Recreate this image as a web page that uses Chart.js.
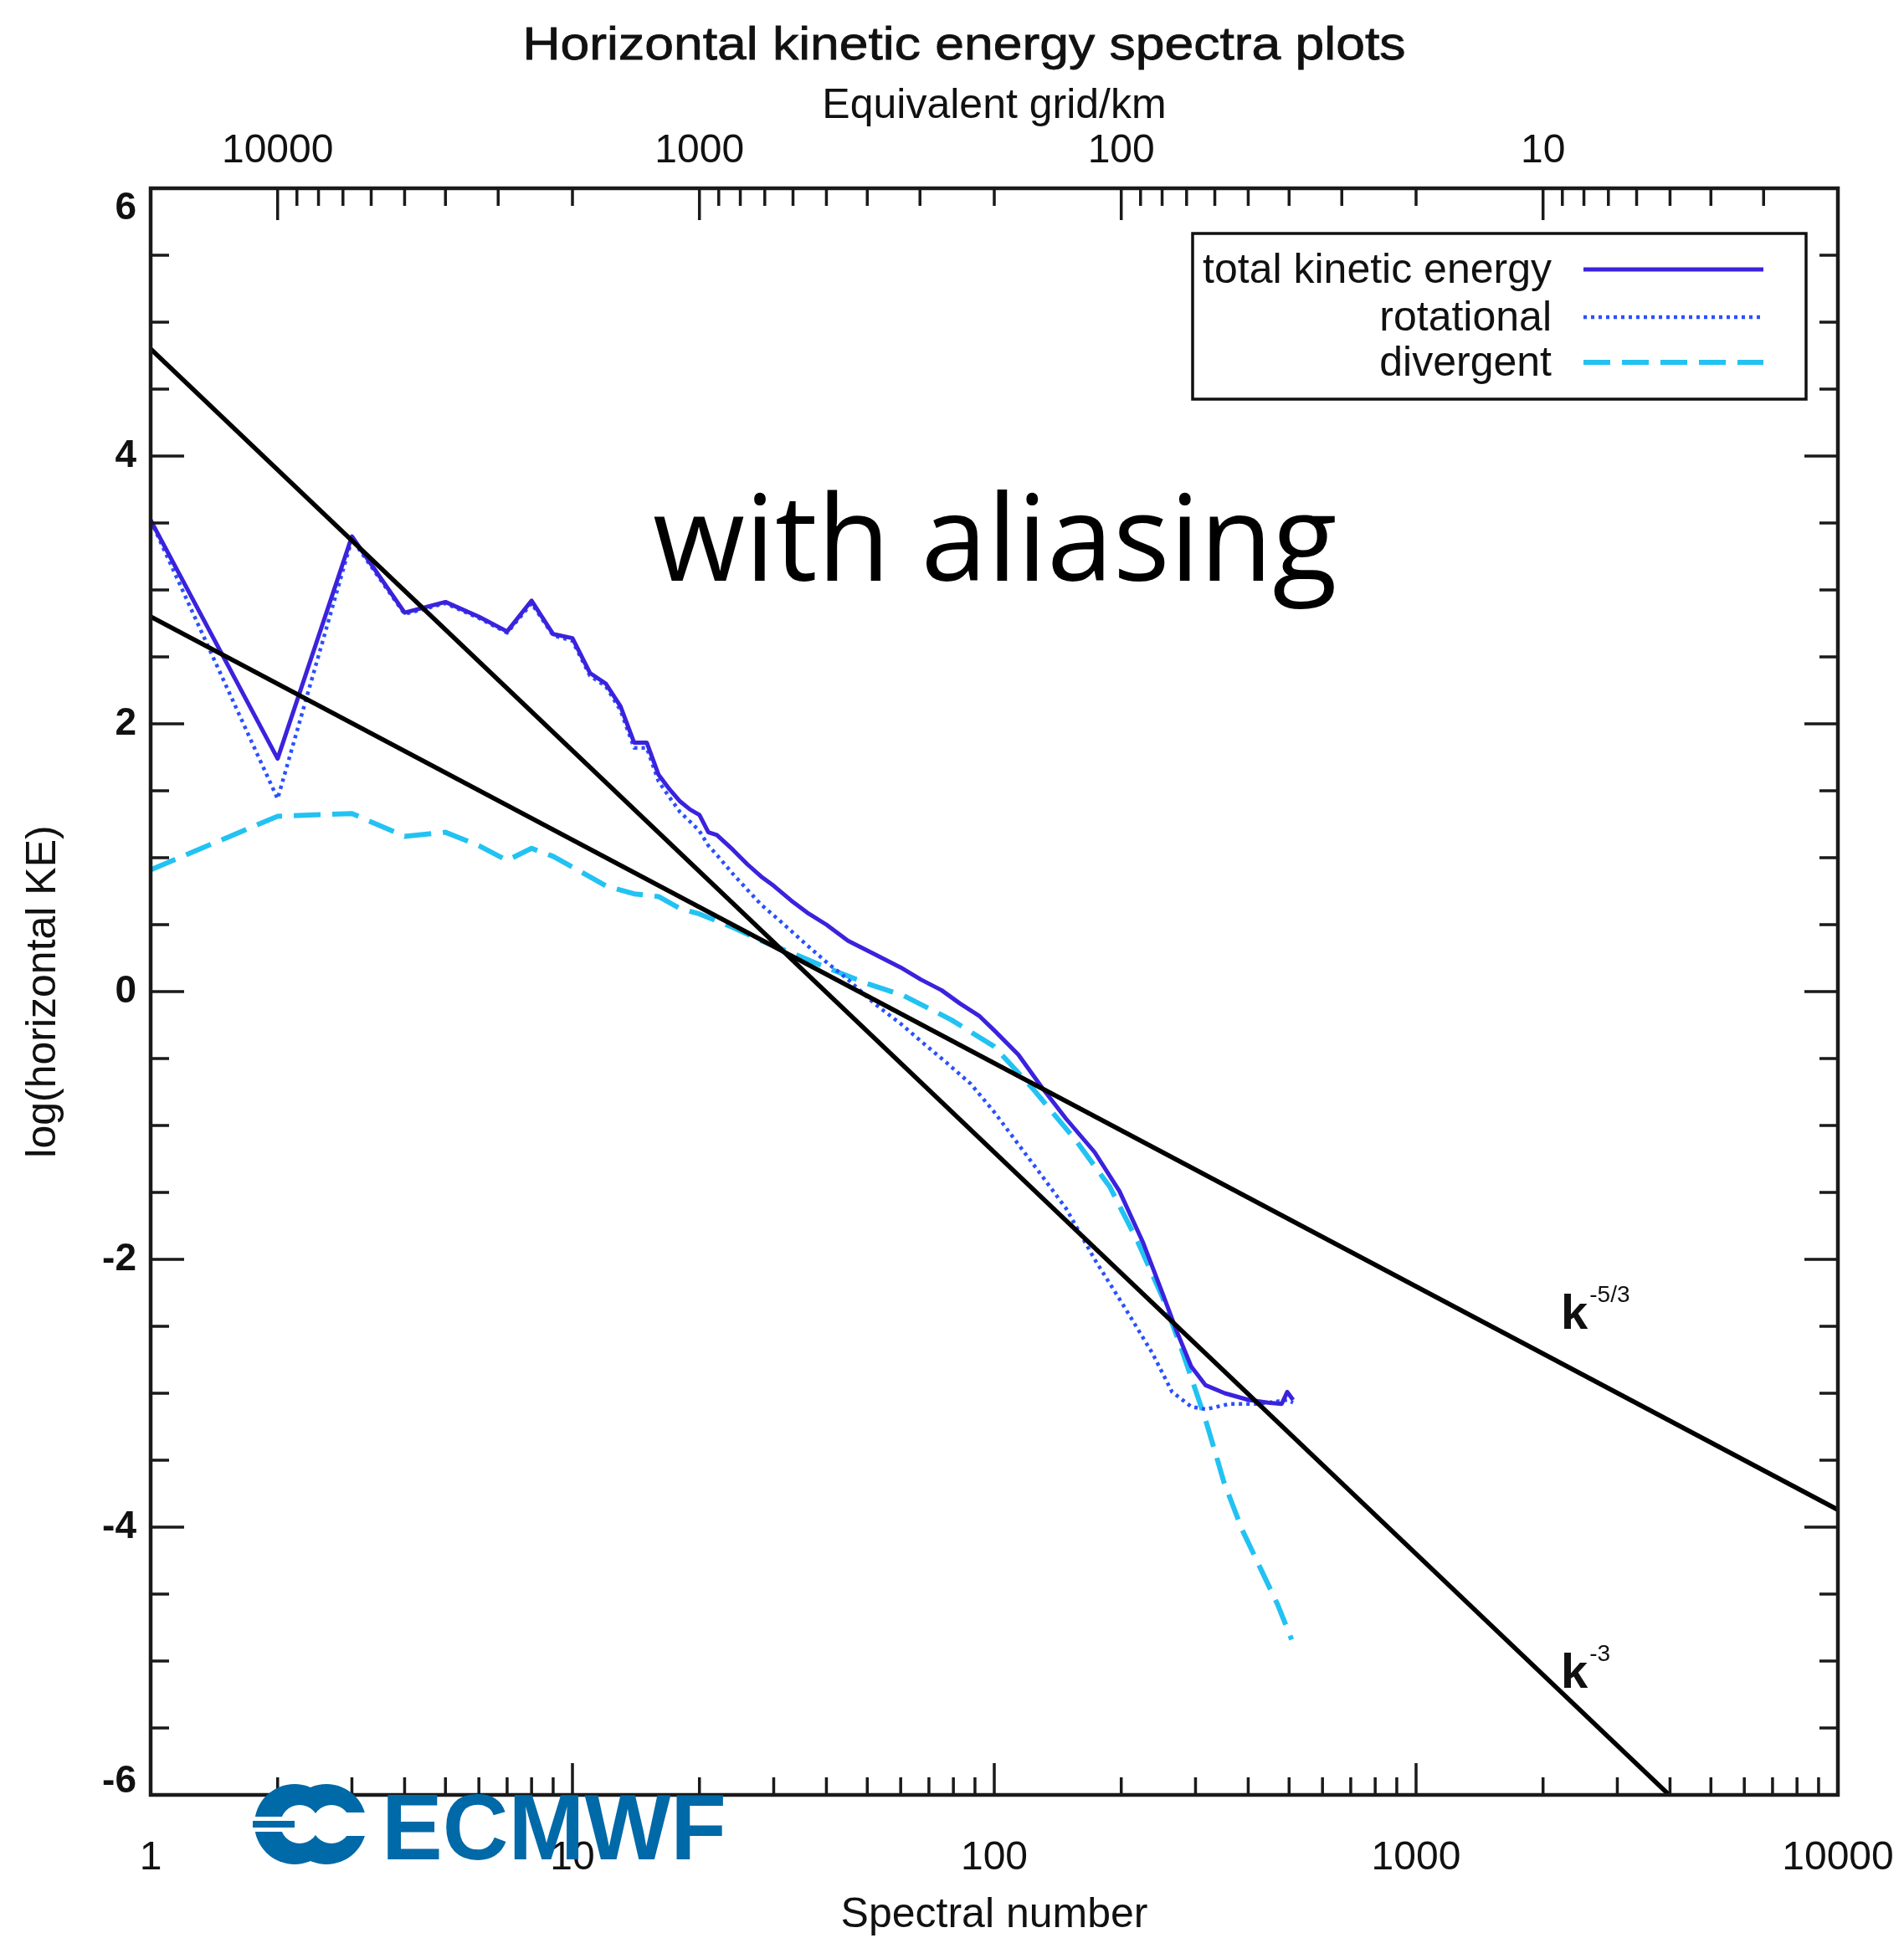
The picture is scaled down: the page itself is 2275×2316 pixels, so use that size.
<!DOCTYPE html>
<html><head><meta charset="utf-8">
<script src="https://cdn.jsdelivr.net/npm/chart.js@4.4.1/dist/chart.umd.min.js"></script>
<style>html,body{margin:0;padding:0;background:#fff;}canvas{display:block;}</style>
</head><body>
<canvas id="c" width="2275" height="2316"></canvas>
<script>
// ---- data ----
const totalN  = [1,2,3,4,5,6,7,8,9,10,11,12,13,14,15,16,17,18,19,20,21,22,24,26,28,30,33,36,40,45,52,60,67,75,83,92,100,114,130,148,173,198,225,251,271,293,317,352,401,446,480,495,511];
const totalKE = [3.52,1.74,3.40,2.83,2.91,2.80,2.69,2.92,2.67,2.64,2.38,2.30,2.13,1.86,1.86,1.62,1.51,1.42,1.36,1.32,1.19,1.17,1.06,0.95,0.86,0.79,0.68,0.59,0.50,0.38,0.28,0.18,0.09,0.01,-0.09,-0.18,-0.29,-0.47,-0.72,-0.95,-1.20,-1.49,-1.87,-2.26,-2.54,-2.80,-2.94,-3.00,-3.05,-3.07,-3.08,-2.99,-3.05];
const rotN    = [1,2,3,4,5,6,7,8,9,10,11,12,13,14,15,16,17,18,19,20,21,22,24,26,28,31,35,40,45,52,60,67,77,88,100,114,130,148,173,203,237,264,293,317,361,424,495,511];
const rotKE   = [3.52,1.44,3.38,2.82,2.90,2.79,2.68,2.90,2.66,2.62,2.36,2.28,2.10,1.82,1.82,1.57,1.45,1.34,1.27,1.20,1.09,1.02,0.88,0.76,0.65,0.53,0.38,0.22,0.09,-0.09,-0.24,-0.37,-0.53,-0.69,-0.90,-1.14,-1.38,-1.62,-2.00,-2.35,-2.70,-2.99,-3.10,-3.12,-3.08,-3.08,-3.05,-3.07];
const divN    = [1,2,3,4,5,6,7,8,9,10,12,14,16,18,20,24,28,33,40,50,61,79,100,123,156,188,219,251,278,301,317,334,350,387,428,470,507];
const divKE   = [0.91,1.31,1.33,1.16,1.19,1.09,0.98,1.07,1.01,0.93,0.79,0.73,0.71,0.62,0.58,0.48,0.38,0.29,0.18,0.06,-0.03,-0.21,-0.41,-0.72,-1.11,-1.46,-1.87,-2.29,-2.67,-2.99,-3.20,-3.44,-3.66,-4.02,-4.31,-4.58,-4.84];
const k53N    = [1, 10000];
const k53Val  = [2.80, -3.87];
const k3N     = [1, 3981];
const k3Val   = [4.80, -6.00];

const seriesLabels    = ['total kinetic energy', 'rotational', 'divergent'];
const xTickLabels     = [1, 10, 100, 1000, 10000];
const topTickLabelsKm = [10000, 1000, 100, 10];
const yTickLabels     = [-6, -4, -2, 0, 2, 4, 6];
const refLabels = [
  {base: 'k', sup: '-5/3', n: 2204, v: -2.52},
  {base: 'k', sup: '-3',   n: 2204, v: -5.20}
];
const titleText = 'Horizontal kinetic energy spectra plots';
const overlayText = 'with aliasing';

// ---- helpers ----
const FONT = "'Liberation Sans', Arial, sans-serif";
const pts = (xs, ys) => xs.map((x, i) => ({x: x, y: ys[i]}));
function logTicks(min, max) {
  const out = [];
  for (let d = 1; d <= 100000; d *= 10)
    for (let k = 1; k < 10; k++) {
      const v = k * d;
      if (v >= min && v <= max) out.push({value: v});
    }
  return out;
}
const yEnds = [yTickLabels[0], yTickLabels[yTickLabels.length - 1]];

const tickPlugin = {
  id: 'idlTicks',
  afterDatasetsDraw(chart) {
    const {ctx, chartArea: a, scales} = chart;
    const x = scales.x, x2 = scales.x2, y = scales.y;
    ctx.save();
    ctx.strokeStyle = '#1a1a1a'; ctx.lineWidth = 3.5; ctx.lineCap = 'butt';
    ctx.beginPath();
    x.ticks.forEach(t => { const p = x.getPixelForValue(t.value); const L = xTickLabels.includes(t.value) ? 38 : 21; ctx.moveTo(p, a.bottom); ctx.lineTo(p, a.bottom - L); });
    x2.ticks.forEach(t => { const p = x2.getPixelForValue(t.value); const L = topTickLabelsKm.includes(t.value) ? 38 : 21; ctx.moveTo(p, a.top); ctx.lineTo(p, a.top + L); });
    y.ticks.forEach(t => { const p = y.getPixelForValue(t.value); const L = yTickLabels.includes(t.value) ? 40 : 22;
      ctx.moveTo(a.left, p); ctx.lineTo(a.left + L, p); ctx.moveTo(a.right, p); ctx.lineTo(a.right - L, p); });
    ctx.stroke();
    ctx.lineWidth = 4.5;
    ctx.strokeRect(a.left, a.top, a.right - a.left, a.bottom - a.top);
    // end labels of the y axis are kept inside the axis range (IDL style)
    ctx.fillStyle = '#111';
    ctx.font = `bold 46px ${FONT}`;
    ctx.textAlign = 'right'; ctx.textBaseline = 'middle';
    ctx.fillText(String(yEnds[1]), a.left - 17, y.getPixelForValue(yEnds[1]) + 24);
    ctx.fillText(String(yEnds[0]), a.left - 17, y.getPixelForValue(yEnds[0]) - 16);
    ctx.restore();
  }
};

function drawLogo(ctx, x0, cy) {
  const blue = '#0069a8';
  const r = 48, c1 = x0 + r, c2 = x0 + r + 38;
  ctx.save();
  ctx.fillStyle = blue;
  ctx.beginPath(); ctx.arc(c1, cy, r, 0, Math.PI * 2); ctx.fill();
  ctx.beginPath(); ctx.arc(c2, cy, r, 0, Math.PI * 2); ctx.fill();
  ctx.fillStyle = '#fff';
  ctx.beginPath(); ctx.arc(c1 + 6, cy, 23, 0, Math.PI * 2); ctx.fill();
  ctx.beginPath(); ctx.arc(c2 + 6, cy, 23, 0, Math.PI * 2); ctx.fill();
  ctx.fillRect(c2 + 6, cy - 14, r + 10, 28);
  ctx.fillRect(x0 - 2, cy - 9, c1 - x0 + 8, 18);
  ctx.fillStyle = blue;
  ctx.fillRect(x0 - 2, cy - 4, c1 - x0 + 2, 8);
  ctx.font = `bold 112px ${FONT}`;
  ctx.textAlign = 'left'; ctx.textBaseline = 'alphabetic';
  const w = ctx.measureText('ECMWF').width;
  ctx.translate(x0 + 152, cy + 42);
  ctx.scale(412 / w, 1);
  ctx.fillText('ECMWF', 0, 0);
  ctx.restore();
}

const decorPlugin = {
  id: 'decor',
  afterDraw(chart) {
    const {ctx, chartArea: a, scales: {x, y}} = chart;
    ctx.save();
    // main title (wide face, as in the reference)
    ctx.fillStyle = '#111'; ctx.strokeStyle = '#111'; ctx.lineWidth = 0.8;
    ctx.font = `56px ${FONT}`;
    ctx.textAlign = 'center'; ctx.textBaseline = 'alphabetic';
    const tw = ctx.measureText(titleText).width;
    ctx.save(); ctx.translate(1152, 71); ctx.scale(1055 / tw, 1);
    ctx.fillText(titleText, 0, 0); ctx.strokeText(titleText, 0, 0); ctx.restore();

    // overlay text
    ctx.fillStyle = '#000';
    ctx.font = "142px 'Open Sans', 'DejaVu Sans', sans-serif";
    ctx.textAlign = 'left';
    ctx.fillText(overlayText, 780, 694);

    // slope labels
    ctx.fillStyle = '#111';
    refLabels.forEach(r => {
      const px = x.getPixelForValue(r.n), py = y.getPixelForValue(r.v);
      ctx.font = `bold 58px ${FONT}`;
      ctx.fillText(r.base, px, py);
      const w = ctx.measureText(r.base).width;
      ctx.font = `28px ${FONT}`;
      ctx.fillText(r.sup, px + w + 2, py - 32);
    });

    // legend
    const bw = 733, bh = 198;
    const bl = a.right - 38 - bw, bt = a.top + 54;
    ctx.fillStyle = '#fff'; ctx.fillRect(bl, bt, bw, bh);
    ctx.strokeStyle = '#111'; ctx.lineWidth = 3.5; ctx.strokeRect(bl, bt, bw, bh);
    const rows = [43, 100, 154];
    const sets = chart.data.datasets.filter(d => seriesLabels.includes(d.label));
    sets.forEach((d, i) => {
      const ry = bt + rows[i];
      ctx.fillStyle = '#111';
      ctx.font = `50px ${FONT}`;
      ctx.textAlign = 'right';
      ctx.fillText(d.label, bl + 429, ry + 16);
      ctx.save();
      ctx.strokeStyle = d.borderColor; ctx.lineWidth = d.borderWidth;
      ctx.setLineDash(d.borderDash || []);
      ctx.beginPath(); ctx.moveTo(bl + 467, ry); ctx.lineTo(bl + 682, ry); ctx.stroke();
      ctx.restore();
    });
    ctx.restore();

    drawLogo(ctx, a.left + 124, a.bottom + 35);
  }
};

const titleFont = {family: FONT, size: 50, lineHeight: 1};

new Chart(document.getElementById('c'), {
  type: 'line',
  data: {
    datasets: [
      {label: 'k-5/3', data: pts(k53N, k53Val), borderColor: '#000', borderWidth: 5.5, order: 0},
      {label: 'k-3',   data: pts(k3N, k3Val),   borderColor: '#000', borderWidth: 5.5, order: 0},
      {label: seriesLabels[0], data: pts(totalN, totalKE), borderColor: '#3b22dc', borderWidth: 5, order: 1},
      {label: seriesLabels[1], data: pts(rotN, rotKE), borderColor: '#2a50ff', borderWidth: 4.5, borderDash: [4, 5], order: 2},
      {label: seriesLabels[2], data: pts(divN, divKE), borderColor: '#22c2f2', borderWidth: 6, borderDash: [32, 14], order: 3}
    ]
  },
  options: {
    responsive: false, devicePixelRatio: 1, animation: false,
    layout: {padding: {left: 0, right: 79, top: 0, bottom: 0}, autoPadding: false},
    elements: {line: {tension: 0, fill: false, borderCapStyle: 'butt', borderJoinStyle: 'round'}, point: {radius: 0}},
    plugins: {legend: {display: false}, tooltip: {enabled: false}, title: {display: false}},
    scales: {
      x: {
        type: 'logarithmic', position: 'bottom', min: 1, max: 10000,
        afterFit(s) { s.height = 171; },
        afterBuildTicks(s) { s.ticks = logTicks(1, 10000); },
        grid: {display: false, drawTicks: false}, border: {display: false},
        ticks: {autoSkip: false, maxRotation: 0, padding: 0, color: '#111', font: {family: FONT, size: 48, lineHeight: 3.15},
          callback: v => xTickLabels.includes(v) ? String(v) : ''},
        title: {display: true, text: 'Spectral number', color: '#111', font: titleFont, padding: {top: 0, bottom: 2}}
      },
      x2: {
        type: 'logarithmic', position: 'top', min: 2, max: 20000, reverse: true,
        afterFit(s) { s.height = 225; },
        afterBuildTicks(s) { s.ticks = logTicks(2, 20000); },
        grid: {display: false, drawTicks: false}, border: {display: false},
        ticks: {autoSkip: false, maxRotation: 0, padding: 0, color: '#111', font: {family: FONT, size: 48, lineHeight: 1.85},
          callback: v => topTickLabelsKm.includes(v) ? String(v) : ''},
        title: {display: true, text: 'Equivalent grid/km', color: '#111', font: titleFont, padding: {top: 102, bottom: 0}}
      },
      y: {
        type: 'linear', position: 'left', min: -6, max: 6,
        afterFit(s) { s.width = 180; },
        afterBuildTicks(s) { const t = []; for (let v = -6; v <= 6.001; v += 0.5) t.push({value: Math.round(v * 10) / 10}); s.ticks = t; },
        grid: {display: false, drawTicks: false}, border: {display: false},
        ticks: {autoSkip: false, padding: 17, color: '#111', font: {family: FONT, size: 46, weight: 'bold', lineHeight: 1},
          callback: v => (yTickLabels.includes(v) && !yEnds.includes(v)) ? String(v) : ''},
        title: {display: true, text: 'log(horizontal KE)', color: '#111', font: titleFont, padding: {top: 27, bottom: 0}}
      }
    }
  },
  plugins: [tickPlugin, decorPlugin]
});
</script>
</body></html>
